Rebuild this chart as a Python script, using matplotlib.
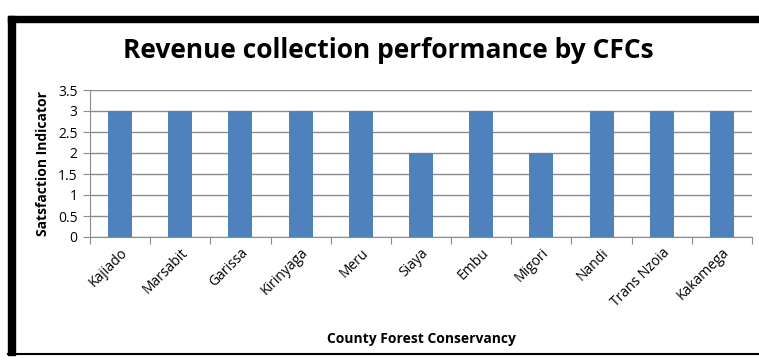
import matplotlib.pyplot as plt
from matplotlib.patches import Rectangle
from matplotlib.lines import Line2D

counties = ["Kajiado", "Marsabit", "Garissa", "Kirinyaga", "Meru", "Siaya",
            "Embu", "Migori", "Nandi", "Trans Nzoia", "Kakamega"]
scores = [3, 3, 3, 3, 3, 2, 3, 2, 3, 3, 3]
yticks = [0, 0.5, 1, 1.5, 2, 2.5, 3, 3.5]

plt.rcParams['font.family'] = ['Open Sans', 'DejaVu Sans']

W, H = 759, 361
fig = plt.figure(figsize=(W / 100, H / 100), dpi=100)

# chart frame (thick top/left, thin bottom)
fig.patches.append(Rectangle((8 / W, 1 - 22 / H), 1 - 8 / W, 6 / H,
                             transform=fig.transFigure, color="black"))
fig.patches.append(Rectangle((8 / W, 1 - 355 / H), 7 / W, (355 - 16) / H,
                             transform=fig.transFigure, color="black"))
fig.lines.append(Line2D([8 / W, 1], [1 - 354 / H, 1 - 354 / H],
                        transform=fig.transFigure, color="black", lw=1.5))

ax = fig.add_axes([90 / W, 1 - 237 / H, (752 - 90) / W, (237 - 90) / H])
x = list(range(len(counties)))
ax.bar(x, scores, width=0.4, color="#4F81BD", zorder=3)

ax.set_xlim(-0.5, len(counties) - 0.5)
ax.set_ylim(0, 3.5)
ax.set_yticks(yticks)
ax.set_yticklabels([f"{v:g}" for v in yticks], fontsize=10)
ax.yaxis.grid(True, color="#8c8c8c", lw=1, zorder=0)

ax.set_xticks([i - 0.5 for i in range(len(counties) + 1)])
ax.set_xticklabels([])
ax.set_xticks(x, minor=True)
ax.set_xticklabels(counties, minor=True, rotation=45, ha="right",
                   rotation_mode="anchor", fontsize=10)
ax.tick_params(axis="x", which="minor", length=0, pad=6)
ax.tick_params(axis="x", which="major", length=5, color="#8c8c8c")
ax.tick_params(axis="y", length=5, color="#8c8c8c", pad=4)

for s in ["top", "right"]:
    ax.spines[s].set_visible(False)
for s in ["left", "bottom"]:
    ax.spines[s].set_color("#8c8c8c")

ax.set_ylabel("Satsfaction Indicator", fontsize=10, fontweight="bold", labelpad=6)
fig.text(421 / W, 1 - 339 / H, "County Forest Conservancy", fontsize=10,
         fontweight="bold", ha="center", va="center")
fig.text(388 / W, 1 - 50 / H, "Revenue collection performance by CFCs",
         fontsize=19, fontweight="bold", ha="center", va="center")

fig.savefig("out.png", dpi=100)
